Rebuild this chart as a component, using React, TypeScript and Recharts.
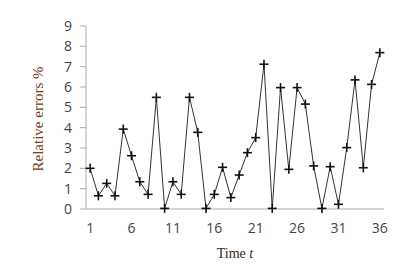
import { LineChart, Line, XAxis, YAxis, Label } from 'recharts'

const times = Array.from({ length: 36 }, (_, i) => i + 1)
const relativeErrors = [
  2.0, 0.65, 1.26, 0.65, 3.93, 2.62, 1.34, 0.72, 5.49, 0.03,
  1.34, 0.72, 5.49, 3.77, 0.03, 0.72, 2.05, 0.56, 1.67, 2.77,
  3.51, 7.12, 0.03, 5.97, 1.95, 5.97, 5.16, 2.12, 0.03, 2.08,
  0.23, 3.02, 6.35, 2.03, 6.13, 7.69,
]
const xTicks = [1, 6, 11, 16, 21, 26, 31, 36]
const yTicks = [0, 1, 2, 3, 4, 5, 6, 7, 8, 9]

const data = times.map((t, i) => ({ t, err: relativeErrors[i] }))

const PlusDot = (props: any) => {
  const { cx, cy } = props
  if (cx == null || cy == null) return null
  return (
    <g>
      <line x1={cx - 4.5} y1={cy} x2={cx + 4.5} y2={cy} stroke="#111" strokeWidth={1.6} />
      <line x1={cx} y1={cy - 4.5} x2={cx} y2={cy + 4.5} stroke="#111" strokeWidth={1.6} />
    </g>
  )
}

const tickStyle = { fontFamily: '"Open Sans", sans-serif', fontSize: 14, fill: '#444' }

export default function App() {
  return (
    <div style={{ position: 'absolute', left: 0, top: 0, background: '#fff' }}>
      <LineChart width={394} height={275} data={data} margin={{ top: 26, right: 10, bottom: 36, left: 0 }}>
        <XAxis
          dataKey="t"
          type="number"
          domain={[0.5, 36.5]}
          ticks={xTicks}
          height={30}
          tickLine={false}
          tickMargin={8}
          axisLine={{ stroke: '#aaa' }}
          tick={tickStyle}
          interval={0}
        >
          <Label
            content={({ viewBox }: any) => {
              const cx = viewBox.x + viewBox.width / 2
              return (
                <text x={cx} y={258} textAnchor="middle" fontFamily='"Liberation Serif", serif' fontSize={14} fill="#3a2a22">
                  Time <tspan fontStyle="italic">t</tspan>
                </text>
              )
            }}
          />
        </XAxis>
        <YAxis
          width={86}
          domain={[0, 9]}
          ticks={yTicks}
          interval={0}
          tickSize={6}
          tickMargin={8}
          tickLine={{ stroke: '#aaa' }}
          axisLine={{ stroke: '#aaa' }}
          tick={tickStyle}
        >
          <Label
            content={() => (
              <text
                x={0}
                y={0}
                transform="translate(43,119) rotate(-90)"
                textAnchor="middle"
                fontFamily='"Liberation Serif", serif'
                fontSize={15}
                fill="#7a3a22"
              >
                Relative errors %
              </text>
            )}
          />
        </YAxis>
        <Line
          type="linear"
          dataKey="err"
          stroke="#333"
          strokeWidth={1}
          dot={<PlusDot />}
          activeDot={false}
          isAnimationActive={false}
        />
      </LineChart>
    </div>
  )
}
